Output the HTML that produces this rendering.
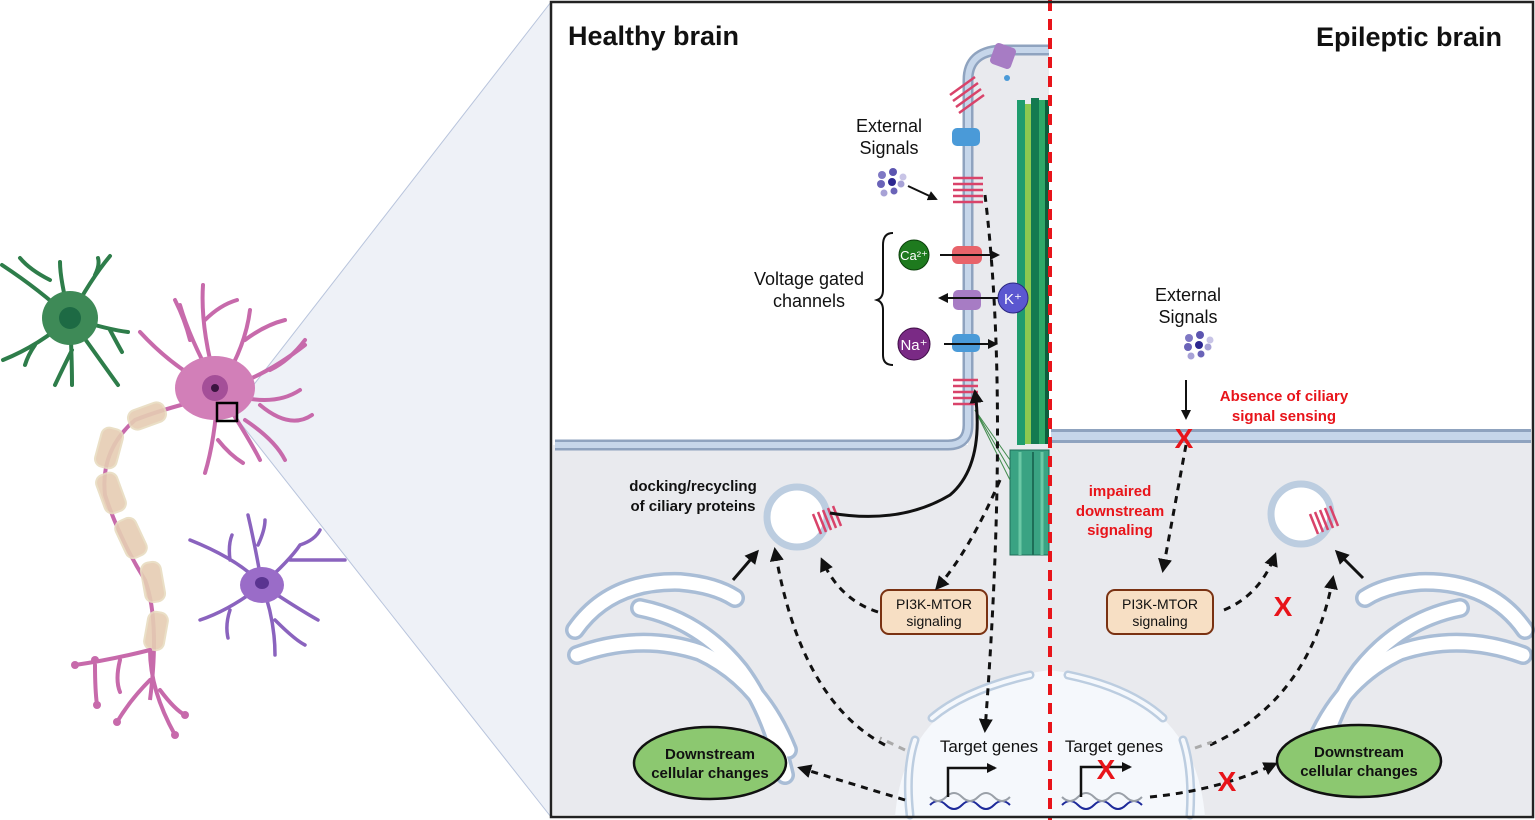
<!DOCTYPE html>
<html><head><meta charset="utf-8"><style>
html,body{margin:0;padding:0;background:#fff}
svg{display:block}
text{font-family:"Liberation Sans",Arial,sans-serif}
</style></head><body>
<svg width="1535" height="820" viewBox="0 0 1535 820" xmlns="http://www.w3.org/2000/svg">
<defs>
<marker id="ah" markerWidth="10" markerHeight="10" refX="8" refY="5" orient="auto" markerUnits="userSpaceOnUse" viewBox="0 0 10 10"><path d="M0,0 L10,5 L0,10 z" fill="#111"/></marker>
<marker id="ahb" markerWidth="14" markerHeight="14" refX="11" refY="7" orient="auto" markerUnits="userSpaceOnUse" viewBox="0 0 14 14"><path d="M0,0 L14,7 L0,14 z" fill="#111"/></marker>
</defs>
<rect x="0" y="0" width="1535" height="820" fill="#fff"/>
<!-- zoom cone -->
<polygon points="238,405 551,2 551,817 238,420" fill="#eef1f7"/>
<line x1="238" y1="405" x2="551" y2="2" stroke="#b8c4dc" stroke-width="1"/>
<line x1="238" y1="420" x2="551" y2="817" stroke="#b8c4dc" stroke-width="1"/>

<!-- green neuron -->
<g stroke="#2e7d4a" stroke-width="4" fill="none" stroke-linecap="round">
<path d="M70,318 Q40,290 2,265 M50,280 Q30,270 20,258"/>
<path d="M70,318 Q60,280 60,262"/>
<path d="M70,318 Q90,280 110,256 M95,275 Q100,265 98,258"/>
<path d="M70,318 Q110,330 128,332 M110,330 Q118,345 122,352"/>
<path d="M70,318 Q40,345 3,360 M35,345 Q28,355 25,365"/>
<path d="M70,318 Q72,360 72,385 M72,350 Q62,370 55,385"/>
<path d="M70,318 Q100,360 118,385"/>
</g>
<ellipse cx="70" cy="318" rx="28" ry="27" fill="#3e8a57"/>
<circle cx="70" cy="318" r="11" fill="#1d6a44"/>

<!-- pink neuron -->
<g stroke="#c76aab" stroke-width="4" fill="none" stroke-linecap="round">
<path d="M218,390 Q190,340 180,305 M190,340 Q185,320 175,300"/>
<path d="M218,390 Q200,330 203,285 M205,320 Q220,305 237,300"/>
<path d="M218,390 Q245,350 250,310 M245,340 Q265,325 285,320"/>
<path d="M218,390 Q260,380 305,345 M270,370 Q290,360 305,340"/>
<path d="M218,390 Q175,370 140,332"/>
<path d="M218,390 Q270,410 300,390 M260,405 Q290,430 312,415"/>
<path d="M218,390 Q250,440 260,460 M245,420 Q275,440 285,460"/>
<path d="M218,390 Q215,440 205,473 M218,440 Q230,455 243,463"/>
</g>
<!-- axon -->
<path d="M200,400 Q160,410 135,420 Q100,450 105,495 Q120,540 145,580 Q160,620 150,700" stroke="#c76aab" stroke-width="4" fill="none"/>
<g fill="#e6cdb3" stroke="#e8dcc0" stroke-width="2" opacity="0.9">
<rect x="128" y="406" width="38" height="20" rx="8" transform="rotate(-20 147 416)"/>
<rect x="98" y="428" width="22" height="40" rx="8" transform="rotate(15 109 448)"/>
<rect x="100" y="473" width="22" height="40" rx="8" transform="rotate(-20 111 493)"/>
<rect x="120" y="518" width="22" height="40" rx="8" transform="rotate(-25 131 538)"/>
<rect x="143" y="562" width="20" height="40" rx="8" transform="rotate(-10 153 582)"/>
<rect x="146" y="612" width="20" height="38" rx="8" transform="rotate(10 156 631)"/>
</g>
<g stroke="#c76aab" stroke-width="4" fill="none" stroke-linecap="round">
<path d="M150,650 Q110,660 75,665 M120,660 Q115,680 120,692 M95,665 Q95,690 97,705"/>
<path d="M150,650 Q150,690 175,735 M150,680 Q130,700 117,722 M160,690 Q175,710 185,715"/>
</g>
<g fill="#c76aab"><circle cx="75" cy="665" r="4"/><circle cx="97" cy="705" r="4"/><circle cx="117" cy="722" r="4"/><circle cx="175" cy="735" r="4"/><circle cx="185" cy="715" r="4"/><circle cx="95" cy="660" r="4"/></g>
<ellipse cx="215" cy="388" rx="40" ry="32" fill="#d27fb8"/>
<circle cx="215" cy="388" r="13" fill="#a44f98"/>
<circle cx="215" cy="388" r="4" fill="#3a1540"/>
<rect x="217" y="403" width="20" height="18" fill="none" stroke="#000" stroke-width="2.5"/>

<!-- purple neuron -->
<g stroke="#8a63be" stroke-width="3.5" fill="none" stroke-linecap="round">
<path d="M262,585 Q240,560 190,540 M230,560 Q228,545 232,535"/>
<path d="M262,585 Q255,545 248,515 M258,545 Q265,530 265,520"/>
<path d="M262,585 Q290,560 300,545 M290,560 Q320,560 345,560 M300,545 Q315,540 320,530"/>
<path d="M262,585 Q230,610 200,620 M230,610 Q225,625 228,638"/>
<path d="M262,585 Q275,620 275,655 M275,620 Q295,640 305,645"/>
<path d="M262,585 Q300,610 318,620"/>
</g>
<ellipse cx="262" cy="585" rx="22" ry="18" fill="#9a6cc8"/>
<ellipse cx="262" cy="583" rx="7" ry="6" fill="#5a3490"/>

<!-- panel -->
<rect x="551" y="2" width="982" height="815" fill="#ffffff"/>
<!-- grey cytoplasm -->
<rect x="553" y="445" width="498" height="370" fill="#e9eaee"/>
<rect x="1051" y="438" width="480" height="377" fill="#e9eaee"/>
<path d="M968,445 L968,85 Q968,52 1000,52 L1049,52 L1049,445 z" fill="#e9eaee"/>
<!-- nucleus -->
<path d="M895,817 Q905,690 1050,670 Q1195,690 1205,817 z" fill="#f5f8fc"/>
<g fill="none" stroke="#bccde0" stroke-width="9" stroke-linecap="round">
<path d="M910,815 Q905,770 915,740"/>
<path d="M932,718 Q965,690 1030,675"/>
<path d="M1068,675 Q1130,688 1163,718"/>
<path d="M1183,740 Q1193,770 1190,815"/>
</g>
<g fill="none" stroke="#f5f8fc" stroke-width="4" stroke-linecap="round">
<path d="M910,815 Q905,770 915,740"/><path d="M932,718 Q965,690 1030,675"/><path d="M1068,675 Q1130,688 1163,718"/><path d="M1183,740 Q1193,770 1190,815"/>
</g>

<!-- membranes -->
<path d="M555,445 L948,445 Q968,445 968,425 L968,80 Q968,52 1000,50 L1049,50" fill="none" stroke="#8fa3bf" stroke-width="11"/>
<path d="M555,445 L948,445 Q968,445 968,425 L968,80 Q968,52 1000,50 L1049,50" fill="none" stroke="#c6d6ea" stroke-width="6"/>
<rect x="1051" y="429" width="480" height="14" fill="#8fa3bf"/>
<rect x="1051" y="432" width="480" height="8" fill="#c6d6ea"/>

<!-- axoneme -->
<g>
<rect x="1017" y="100" width="8" height="345" fill="#1f9c6e"/>
<rect x="1025" y="104" width="6" height="340" fill="#8cc850"/>
<rect x="1031" y="98" width="8" height="346" fill="#137a50"/>
<rect x="1039" y="100" width="6" height="344" fill="#2fa868"/>
<rect x="1045" y="100" width="4" height="344" fill="#0d5e3c"/>
<rect x="1010" y="450" width="39" height="105" fill="#3aa383" stroke="#1e6e58" stroke-width="1"/>
<line x1="1020" y1="452" x2="1020" y2="555" stroke="#6cc8a6" stroke-width="3"/>
<line x1="1033" y1="452" x2="1033" y2="555" stroke="#1e6e58" stroke-width="2"/>
<line x1="1042" y1="452" x2="1042" y2="555" stroke="#6cc8a6" stroke-width="3"/>
<g stroke="#3f8a4a" stroke-width="1"><line x1="975" y1="410" x2="1010" y2="460"/><line x1="975" y1="410" x2="1010" y2="470"/><line x1="975" y1="410" x2="1010" y2="480"/></g>
</g>

<!-- membrane proteins -->
<g fill="none" stroke="#d9436a" stroke-width="2.5">
<path d="M953,178 h30 M953,184 h30 M953,190 h30 M953,196 h30 M953,202 h30"/>
<path d="M953,380 h25 M953,386 h25 M953,392 h25 M953,398 h25 M953,404 h25"/>
<path d="M950,95 l25,-18 M953,101 l25,-18 M956,107 l25,-18 M959,113 l25,-18"/>
</g>
<rect x="952" y="128" width="28" height="18" rx="5" fill="#4a9ad8"/>
<rect x="952" y="334" width="28" height="18" rx="5" fill="#4a9ad8"/>
<rect x="952" y="246" width="30" height="18" rx="6" fill="#e8636a"/>
<rect x="953" y="290" width="28" height="20" rx="5" fill="#a77cc4"/>
<rect x="992" y="45" width="22" height="22" rx="4" fill="#a77cc4" transform="rotate(20 1003 56)"/>
<circle cx="1007" cy="78" r="3" fill="#4a9ad8"/>

<!-- ions -->
<circle cx="914" cy="255" r="15" fill="#1e7a1e" stroke="#0c3f0c"/>
<text x="914" y="260" font-size="13" fill="#fff" text-anchor="middle">Ca²⁺</text>
<circle cx="914" cy="344" r="16" fill="#7a2a85" stroke="#3d0c45"/>
<text x="914" y="350" font-size="15" fill="#fff" text-anchor="middle">Na⁺</text>
<circle cx="1013" cy="298" r="15" fill="#5b57d0" stroke="#2b2880"/>
<text x="1013" y="304" font-size="15" fill="#fff" text-anchor="middle">K⁺</text>
<g stroke="#111" stroke-width="2" fill="none">
<line x1="940" y1="255" x2="998" y2="255" marker-end="url(#ah)"/>
<line x1="998" y1="298" x2="940" y2="298" marker-end="url(#ah)"/>
<line x1="944" y1="344" x2="996" y2="344" marker-end="url(#ah)"/>
<line x1="908" y1="186" x2="936" y2="199" marker-end="url(#ah)"/>
</g>
<!-- brace -->
<path d="M893,233 Q883,233 883,245 L883,290 Q883,298 877,300 Q883,302 883,310 L883,355 Q883,365 893,365" fill="none" stroke="#111" stroke-width="2"/>

<!-- signal dots -->
<g><circle cx="882" cy="175" r="4" fill="#7f78c4"/><circle cx="893" cy="172" r="4" fill="#5c55b0"/><circle cx="903" cy="177" r="3.5" fill="#c8c4e6"/><circle cx="881" cy="184" r="4" fill="#6a63b8"/><circle cx="892" cy="182" r="4" fill="#2d2890"/><circle cx="901" cy="184" r="3.5" fill="#a7a2d6"/><circle cx="884" cy="193" r="3.5" fill="#a7a2d6"/><circle cx="894" cy="191" r="3.5" fill="#6a63b8"/></g>
<g transform="translate(307,163)"><circle cx="882" cy="175" r="4" fill="#7f78c4"/><circle cx="893" cy="172" r="4" fill="#5c55b0"/><circle cx="903" cy="177" r="3.5" fill="#c8c4e6"/><circle cx="881" cy="184" r="4" fill="#6a63b8"/><circle cx="892" cy="182" r="4" fill="#2d2890"/><circle cx="901" cy="184" r="3.5" fill="#a7a2d6"/><circle cx="884" cy="193" r="3.5" fill="#a7a2d6"/><circle cx="894" cy="191" r="3.5" fill="#6a63b8"/></g>

<!-- vesicles -->
<circle cx="797" cy="517" r="30" fill="#fff" stroke="#bccde0" stroke-width="7"/>
<circle cx="1301" cy="514" r="30" fill="#fff" stroke="#bccde0" stroke-width="7"/>
<g fill="none" stroke="#d9436a" stroke-width="2.5">
<path d="M818,512 l8,20 M823,510 l8,20 M828,508 l8,20 M833,506 l8,20 M813,514 l8,20"/>
<path d="M1315,512 l8,20 M1320,510 l8,20 M1325,508 l8,20 M1330,506 l8,20 M1310,514 l8,20"/>
</g>

<!-- golgi -->
<g id="golgiL" fill="none" stroke-linecap="round">
<g stroke="#a9bdd6" stroke-width="20">
<path d="M575,630 Q610,580 680,582 Q715,585 735,598"/>
<path d="M577,655 Q640,632 700,652 Q760,680 788,750"/>
<path d="M640,608 Q700,620 740,670 Q770,710 785,775"/>
</g>
<g stroke="#ffffff" stroke-width="13">
<path d="M575,630 Q610,580 680,582 Q715,585 735,598"/>
<path d="M577,655 Q640,632 700,652 Q760,680 788,750"/>
<path d="M640,608 Q700,620 740,670 Q770,710 785,775"/>
</g>
</g>
<g transform="translate(2100,0) scale(-1,1)" fill="none" stroke-linecap="round">
<g stroke="#a9bdd6" stroke-width="20">
<path d="M575,630 Q610,580 680,582 Q715,585 735,598"/>
<path d="M577,655 Q640,632 700,652 Q760,680 788,750"/>
<path d="M640,608 Q700,620 740,670 Q770,710 785,775"/>
</g>
<g stroke="#ffffff" stroke-width="13">
<path d="M575,630 Q610,580 680,582 Q715,585 735,598"/>
<path d="M577,655 Q640,632 700,652 Q760,680 788,750"/>
<path d="M640,608 Q700,620 740,670 Q770,710 785,775"/>
</g>
</g>

<!-- red dashed divider -->
<line x1="1050" y1="0" x2="1050" y2="820" stroke="#e8141a" stroke-width="4" stroke-dasharray="11,8"/>

<!-- PI3K boxes -->
<rect x="881" y="590" width="106" height="44" rx="8" fill="#f7dfc4" stroke="#7a3212" stroke-width="2"/>
<text x="934" y="609" font-size="14" text-anchor="middle" fill="#111">PI3K-MTOR</text>
<text x="934" y="626" font-size="14" text-anchor="middle" fill="#111">signaling</text>
<rect x="1107" y="590" width="106" height="44" rx="8" fill="#f7dfc4" stroke="#7a3212" stroke-width="2"/>
<text x="1160" y="609" font-size="14" text-anchor="middle" fill="#111">PI3K-MTOR</text>
<text x="1160" y="626" font-size="14" text-anchor="middle" fill="#111">signaling</text>

<!-- Downstream ovals -->
<ellipse cx="710" cy="763" rx="76" ry="36" fill="#8cc870" stroke="#111" stroke-width="2.5"/>
<text x="710" y="759" font-size="15" font-weight="bold" text-anchor="middle" fill="#111">Downstream</text>
<text x="710" y="778" font-size="15" font-weight="bold" text-anchor="middle" fill="#111">cellular changes</text>
<ellipse cx="1359" cy="761" rx="82" ry="36" fill="#8cc870" stroke="#111" stroke-width="2.5"/>
<text x="1359" y="757" font-size="15" font-weight="bold" text-anchor="middle" fill="#111">Downstream</text>
<text x="1359" y="776" font-size="15" font-weight="bold" text-anchor="middle" fill="#111">cellular changes</text>

<!-- DNA -->
<g fill="none" stroke-width="2">
<path d="M930,805 q8,-8 16,0 q8,8 16,0 q8,-8 16,0 q8,8 16,0 q8,-8 16,0" stroke="#1e2a9a"/>
<path d="M930,797 q8,8 16,0 q8,-8 16,0 q8,8 16,0 q8,-8 16,0 q8,8 16,0" stroke="#9aa0a8"/>
<path d="M1062,805 q8,-8 16,0 q8,8 16,0 q8,-8 16,0 q8,8 16,0 q8,-8 16,0" stroke="#1e2a9a"/>
<path d="M1062,797 q8,8 16,0 q8,-8 16,0 q8,8 16,0 q8,-8 16,0 q8,8 16,0" stroke="#9aa0a8"/>
</g>
<g stroke="#111" stroke-width="2.5" fill="none">
<path d="M948,797 L948,768 L995,768" marker-end="url(#ah)"/>
<path d="M1081,797 L1081,767 L1130,767" marker-end="url(#ah)"/>
</g>

<!-- dashed arrows -->
<g stroke="#111" stroke-width="3" stroke-dasharray="7,6" fill="none">
<path d="M985,195 Q1010,400 985,730" marker-end="url(#ahb)"/>
<path d="M1000,480 Q970,550 937,588" marker-end="url(#ahb)"/>
<path d="M878,612 Q840,600 822,560" marker-end="url(#ahb)"/>
<path d="M905,800 L800,768" marker-end="url(#ahb)"/>
<path d="M885,745 Q800,700 775,550" marker-end="url(#ahb)"/>
<path d="M1186,445 L1163,570" marker-end="url(#ahb)"/>
<path d="M1224,610 Q1260,595 1275,555" marker-end="url(#ahb)"/>
<path d="M1210,745 Q1310,700 1333,578" marker-end="url(#ahb)"/>
<path d="M1150,797 Q1220,790 1275,764" marker-end="url(#ahb)"/>
</g>
<g stroke="#aaa" stroke-width="3" stroke-dasharray="7,6" fill="none">
<path d="M905,750 L880,738"/><path d="M1195,748 L1212,742"/>
</g>
<!-- solid arrows -->
<g stroke="#111" stroke-width="3" fill="none">
<path d="M830,513 Q900,525 950,495 Q985,465 975,392" marker-end="url(#ahb)"/>
<path d="M733,580 L757,552" marker-end="url(#ahb)"/>
<path d="M1363,578 L1337,552" marker-end="url(#ahb)"/>
</g>
<line x1="1186" y1="380" x2="1186" y2="418" stroke="#111" stroke-width="2" marker-end="url(#ah)"/>

<!-- red X -->
<g font-weight="bold" text-anchor="middle">
<text x="1184" y="448" font-size="28" fill="#e8141a">X</text>
<text x="1283" y="616" font-size="28" fill="#e8141a">X</text>
<text x="1106" y="779" font-size="28" fill="#e8141a">X</text>
<text x="1227" y="791" font-size="28" fill="#e8141a">X</text>
</g>

<!-- texts -->
<text x="568" y="45" font-size="27" font-weight="bold" fill="#111">Healthy brain</text>
<text x="1502" y="46" font-size="27" font-weight="bold" fill="#111" text-anchor="end">Epileptic brain</text>
<text x="889" y="132" font-size="18" text-anchor="middle" fill="#111">External</text>
<text x="889" y="154" font-size="18" text-anchor="middle" fill="#111">Signals</text>
<text x="1188" y="301" font-size="18" text-anchor="middle" fill="#111">External</text>
<text x="1188" y="323" font-size="18" text-anchor="middle" fill="#111">Signals</text>
<text x="809" y="285" font-size="18" text-anchor="middle" fill="#111">Voltage gated</text>
<text x="809" y="307" font-size="18" text-anchor="middle" fill="#111">channels</text>
<text x="1284" y="401" font-size="15" font-weight="bold" text-anchor="middle" fill="#e8141a">Absence of ciliary</text>
<text x="1284" y="421" font-size="15" font-weight="bold" text-anchor="middle" fill="#e8141a">signal sensing</text>
<text x="1120" y="496" font-size="15" font-weight="bold" text-anchor="middle" fill="#e8141a">impaired</text>
<text x="1120" y="516" font-size="15" font-weight="bold" text-anchor="middle" fill="#e8141a">downstream</text>
<text x="1120" y="535" font-size="15" font-weight="bold" text-anchor="middle" fill="#e8141a">signaling</text>
<text x="693" y="491" font-size="15" font-weight="bold" text-anchor="middle" fill="#111">docking/recycling</text>
<text x="693" y="511" font-size="15" font-weight="bold" text-anchor="middle" fill="#111">of ciliary proteins</text>
<text x="989" y="752" font-size="17" text-anchor="middle" fill="#111">Target genes</text>
<text x="1114" y="752" font-size="17" text-anchor="middle" fill="#111">Target genes</text>

<rect x="551" y="2" width="982" height="815" fill="none" stroke="#222" stroke-width="2.5"/>
</svg>
</body></html>
